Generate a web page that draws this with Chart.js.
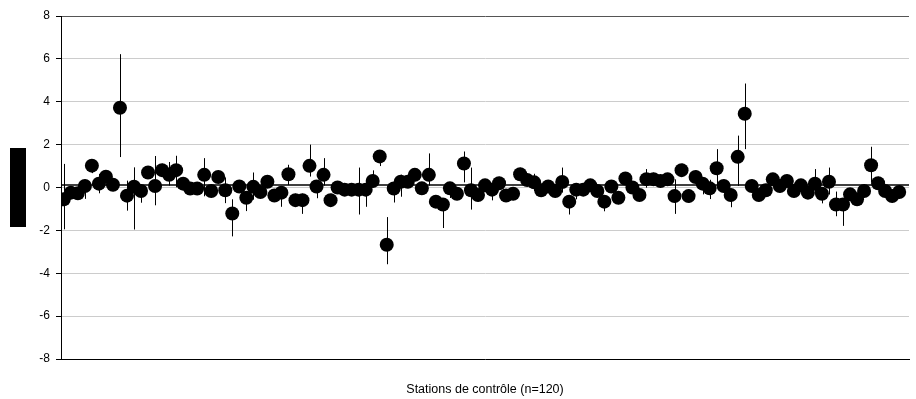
<!DOCTYPE html>
<html>
<head>
<meta charset="utf-8">
<script src="https://cdn.jsdelivr.net/npm/chart.js@4"></script>
<style>
  html, body { margin: 0; padding: 0; background: #fff; }
  #wrap { width: 916px; height: 399px; position: relative; }
</style>
</head>
<body>
<div id="wrap"><canvas id="stationChart"></canvas></div>
<script>
// Mean difference per control station (n=120), with error bar extents
const values = [
  -0.55, -0.24, -0.27, 0.07, 1.02, 0.18, 0.50, 0.13, 3.72, -0.38,
  0.04, -0.16, 0.70, 0.07, 0.81, 0.59, 0.81, 0.18, -0.05, -0.05,
  0.59, -0.16, 0.49, -0.13, -1.21, 0.05, -0.48, 0.03, -0.21, 0.27,
  -0.37, -0.24, 0.62, -0.59, -0.59, 1.01, 0.05, 0.59, -0.59, 0.00,
  -0.10, -0.10, -0.10, -0.10, 0.30, 1.45, -2.67, -0.05, 0.27, 0.27,
  0.59, -0.04, 0.59, -0.66, -0.79, -0.04, -0.29, 1.12, -0.13, -0.35,
  0.10, -0.10, 0.20, -0.37, -0.29, 0.62, 0.35, 0.24, -0.13, 0.05,
  -0.16, 0.26, -0.66, -0.10, -0.10, 0.10, -0.16, -0.66, 0.05, -0.48,
  0.42, 0.00, -0.35, 0.39, 0.39, 0.30, 0.38, -0.40, 0.81, -0.40,
  0.49, 0.18, -0.04, 0.90, 0.07, -0.35, 1.43, 3.44, 0.07, -0.35,
  -0.13, 0.38, 0.07, 0.30, -0.16, 0.10, -0.24, 0.18, -0.29, 0.27,
  -0.79, -0.79, -0.32, -0.55, -0.16, 1.04, 0.20, -0.16, -0.40, -0.21
];
const errMinus = [
  1.40, 0.30, 0.30, 0.60, 0.35, 0.45, 0.30, 0.30, 2.30, 0.70,
  2.00, 0.55, 0.30, 0.90, 0.30, 0.50, 0.80, 0.30, 0.30, 0.30,
  1.00, 0.30, 0.30, 0.60, 1.07, 0.30, 0.62, 0.60, 0.30, 0.30,
  0.30, 0.66, 0.50, 0.30, 0.64, 0.50, 0.55, 0.50, 0.30, 0.30,
  0.30, 0.30, 1.16, 0.80, 0.30, 0.45, 0.91, 0.65, 0.70, 0.30,
  0.30, 0.30, 0.50, 0.30, 1.10, 0.45, 0.30, 0.88, 0.90, 0.30,
  0.30, 0.50, 0.30, 0.30, 0.30, 0.30, 0.30, 0.40, 0.30, 0.30,
  0.30, 0.50, 0.60, 0.45, 0.30, 0.30, 0.30, 0.45, 0.30, 0.30,
  0.30, 0.30, 0.30, 0.40, 0.30, 0.30, 0.30, 0.83, 0.30, 0.30,
  0.30, 0.50, 0.50, 0.83, 0.30, 0.57, 1.36, 1.65, 0.30, 0.30,
  0.30, 0.30, 0.30, 0.30, 0.30, 0.30, 0.30, 0.50, 0.45, 0.60,
  0.55, 1.00, 0.30, 0.30, 0.30, 0.80, 0.30, 0.30, 0.30, 0.30
];
const errPlus = [
  1.65, 0.30, 0.30, 0.30, 0.20, 0.45, 0.30, 0.30, 2.50, 0.70,
  0.90, 0.30, 0.30, 1.40, 0.30, 0.60, 0.67, 0.30, 0.30, 0.30,
  0.78, 0.30, 0.30, 0.60, 0.66, 0.30, 0.30, 0.67, 0.30, 0.30,
  0.30, 0.30, 0.44, 0.30, 0.30, 0.99, 0.30, 0.78, 0.30, 0.30,
  0.30, 0.30, 1.03, 0.49, 0.50, 0.30, 1.29, 0.30, 0.33, 0.30,
  0.30, 0.30, 1.00, 0.30, 0.30, 0.30, 0.30, 0.56, 1.06, 0.30,
  0.30, 0.30, 0.30, 0.30, 0.30, 0.30, 0.30, 0.40, 0.30, 0.30,
  0.30, 0.67, 0.30, 0.30, 0.30, 0.30, 0.30, 0.30, 0.30, 0.30,
  0.30, 0.30, 0.30, 0.47, 0.30, 0.30, 0.30, 0.78, 0.30, 0.30,
  0.30, 0.30, 0.40, 0.89, 0.30, 0.30, 0.99, 1.41, 0.30, 0.30,
  0.30, 0.30, 0.30, 0.30, 0.30, 0.30, 0.30, 0.68, 0.30, 0.66,
  0.60, 0.30, 0.30, 0.30, 0.30, 0.86, 0.30, 0.30, 0.30, 0.30
];
const meanValue = 0.12;
const yTicks = [-8, -6, -4, -2, 0, 2, 4, 6, 8];
const xTitle = 'Stations de contrôle (n=120)';

const points = values.map((v, i) => ({ x: i + 1, y: v }));
const xMin = 0.6, xMax = 121.4;

// vertical error bars behind the markers
const errorBars = {
  id: 'errorBars',
  beforeDatasetsDraw(chart) {
    const { ctx, scales: { x, y } } = chart;
    ctx.save();
    ctx.strokeStyle = '#000';
    ctx.lineWidth = 1;
    values.forEach((v, i) => {
      const px = Math.round(x.getPixelForValue(i + 1)) + 0.5;
      ctx.beginPath();
      ctx.moveTo(px, y.getPixelForValue(v - errMinus[i]));
      ctx.lineTo(px, y.getPixelForValue(v + errPlus[i]));
      ctx.stroke();
    });
    ctx.restore();
  }
};

// black box where the y axis label sits
const labelBox = {
  id: 'labelBox',
  afterDraw(chart) {
    const ctx = chart.ctx;
    ctx.save();
    ctx.fillStyle = '#000';
    ctx.fillRect(10, 148, 16, 79);
    ctx.restore();
  }
};

const ctx = document.getElementById('stationChart').getContext('2d');
new Chart(ctx, {
  type: 'scatter',
  data: {
    datasets: [
      {
        data: points,
        backgroundColor: '#000',
        borderWidth: 0,
        pointRadius: 7,
        pointHoverRadius: 7,
        order: 1
      },
      {
        type: 'line',
        data: [{ x: xMin, y: meanValue }, { x: xMax, y: meanValue }],
        borderColor: '#000',
        borderWidth: 1.6,
        pointRadius: 0,
        order: 2
      }
    ]
  },
  options: {
    responsive: true,
    maintainAspectRatio: false,
    animation: false,
    layout: { padding: { top: 16, right: 4, left: 0, bottom: 0 } },
    plugins: {
      legend: { display: false },
      tooltip: { enabled: false }
    },
    scales: {
      x: {
        type: 'linear',
        min: xMin,
        max: xMax,
        ticks: { display: false },
        grid: { display: false },
        border: { display: true, color: '#000', width: 1 },
        title: {
          display: true,
          text: xTitle,
          color: '#000',
          font: { family: 'Liberation Sans, Arial, sans-serif', size: 12.5 },
          padding: { top: 0, bottom: 2 }
        },
        afterFit(scale) { scale.height = 40; }
      },
      y: {
        min: -8,
        max: 8,
        afterBuildTicks(scale) { scale.ticks = yTicks.map(v => ({ value: v })); },
        ticks: {
          color: '#000',
          padding: 6,
          font: { family: 'Liberation Sans, Arial, sans-serif', size: 12 }
        },
        grid: {
          color: ctx => ctx.tick && ctx.tick.value === 8 ? '#555555' : '#cccccc',
          lineWidth: 1,
          tickLength: 5,
          tickColor: '#000'
        },
        border: { display: true, color: '#000', width: 1 },
        afterFit(scale) { scale.width = 61; }
      }
    }
  },
  plugins: [errorBars, labelBox]
});
</script>
</body>
</html>
